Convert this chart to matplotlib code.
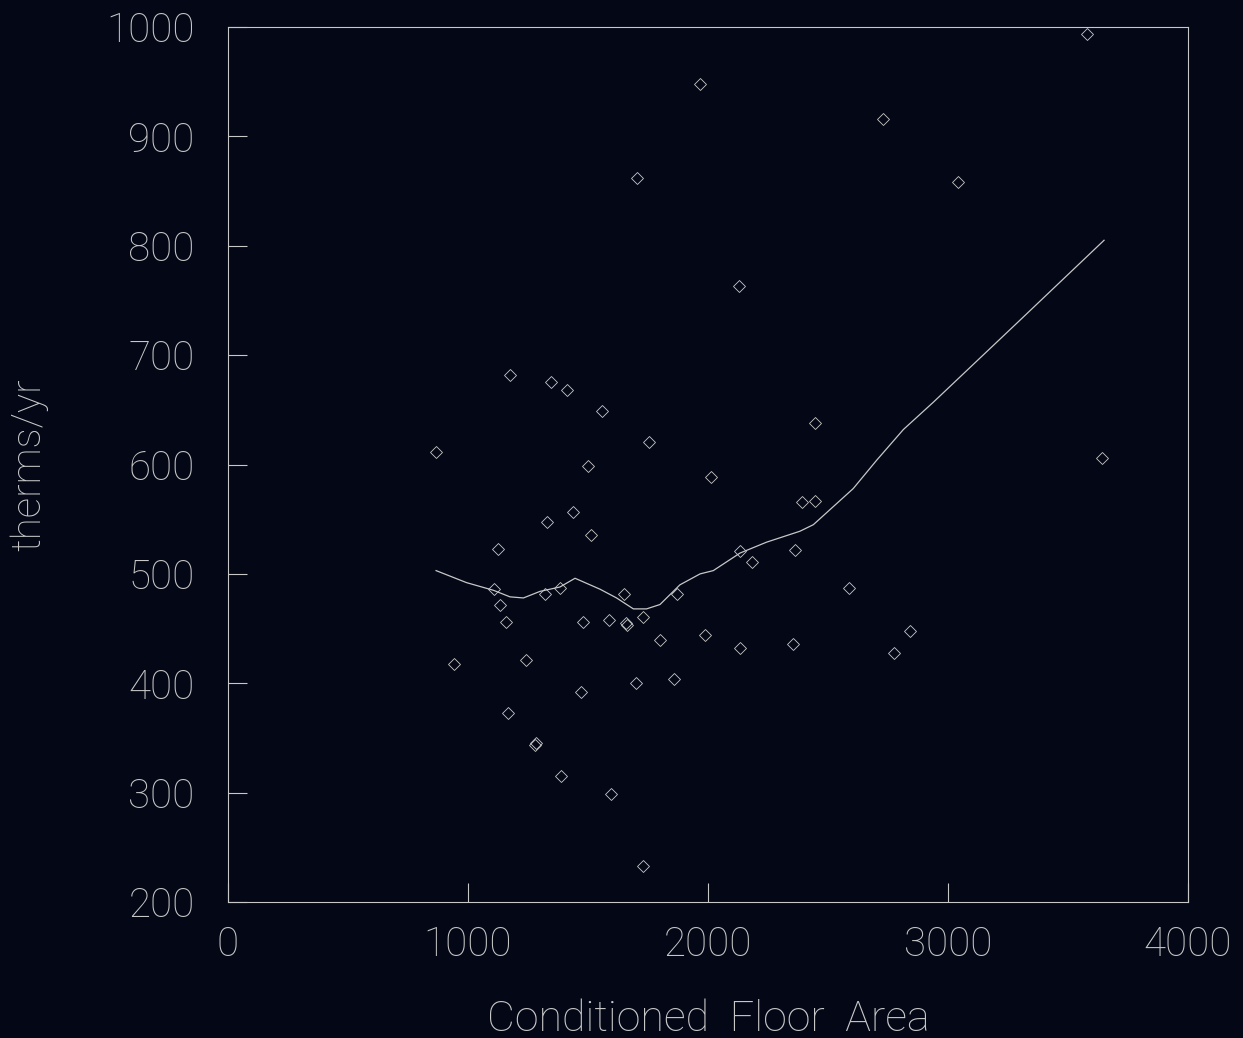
import numpy as np
import matplotlib.pyplot as plt

# scatter: conditioned floor area vs gas use
area = [867, 940, 1127, 1110, 1133, 1158, 1175, 1168, 1242, 1278, 1282,
        1320, 1329, 1344, 1411, 1439, 1383, 1386, 1469, 1478, 1500, 1512,
        1560, 1589, 1594, 1650, 1659, 1663, 1700, 1704, 1728, 1731, 1754,
        1798, 1857, 1869, 1967, 1988, 2014, 2129, 2133, 2133, 2182, 2355,
        2363, 2393, 2444, 2446, 2589, 2729, 2774, 2840, 3042, 3579, 3642]
therms = [611, 418, 523, 486, 472, 456, 682, 373, 421, 344, 345,
          482, 547, 675, 668, 557, 487, 315, 392, 456, 599, 536,
          649, 458, 299, 482, 455, 453, 400, 862, 461, 233, 621,
          440, 404, 482, 948, 444, 589, 763, 521, 432, 511, 436,
          522, 566, 638, 567, 487, 916, 428, 448, 858, 994, 606]

# smoothed trend
fit_x = [867, 994, 1106, 1175, 1231, 1300, 1383, 1446, 1550, 1619, 1689,
         1744, 1800, 1883, 1967, 2022, 2133, 2244, 2383, 2439, 2605, 2703,
         2814, 2939, 3300, 3650]
fit_y = [503, 492, 485, 479, 478, 484, 488, 496, 486, 478, 468,
         468, 472, 490, 500, 503, 519, 529, 539, 545, 578, 604,
         632, 657, 732, 805]

xticks = [0, 1000, 2000, 3000, 4000]
yticks = [200, 300, 400, 500, 600, 700, 800, 900, 1000]

bg = '#030716'
fg = '#c8c8c8'
font = dict(family=['Roboto', 'DejaVu Sans'], weight=100, color=fg)

fig = plt.figure(figsize=(12.43, 10.38), dpi=100, facecolor=bg)
ax = fig.add_axes([0.1834, 0.131, 0.7724, 0.843])
ax.set_facecolor(bg)

ax.plot(area, therms, linestyle='none', marker='D', markersize=6,
        markerfacecolor='none', markeredgecolor=fg, markeredgewidth=0.6)
ax.plot(fit_x, fit_y, color=fg, linewidth=0.9)

ax.set_xlim(0, 4000)
ax.set_ylim(200, 1000)
ax.set_xticks(xticks)
ax.set_yticks(yticks)
ax.set_xticklabels([str(t) for t in xticks], fontsize=29, **font)
ax.set_yticklabels([str(t) for t in yticks], fontsize=29, **font)
ax.tick_params(direction='in', length=14, width=0.8, color=fg, pad=17)
ax.tick_params(axis='y', pad=24)

for s in ax.spines.values():
    s.set_color(fg)
    s.set_linewidth(0.8)

ax.set_xlabel('Conditioned  Floor  Area', fontsize=31, labelpad=25, **font)
ax.set_ylabel('therms/yr', fontsize=29, labelpad=42, **font)

fig.savefig('out.png', dpi=100, facecolor=bg)
